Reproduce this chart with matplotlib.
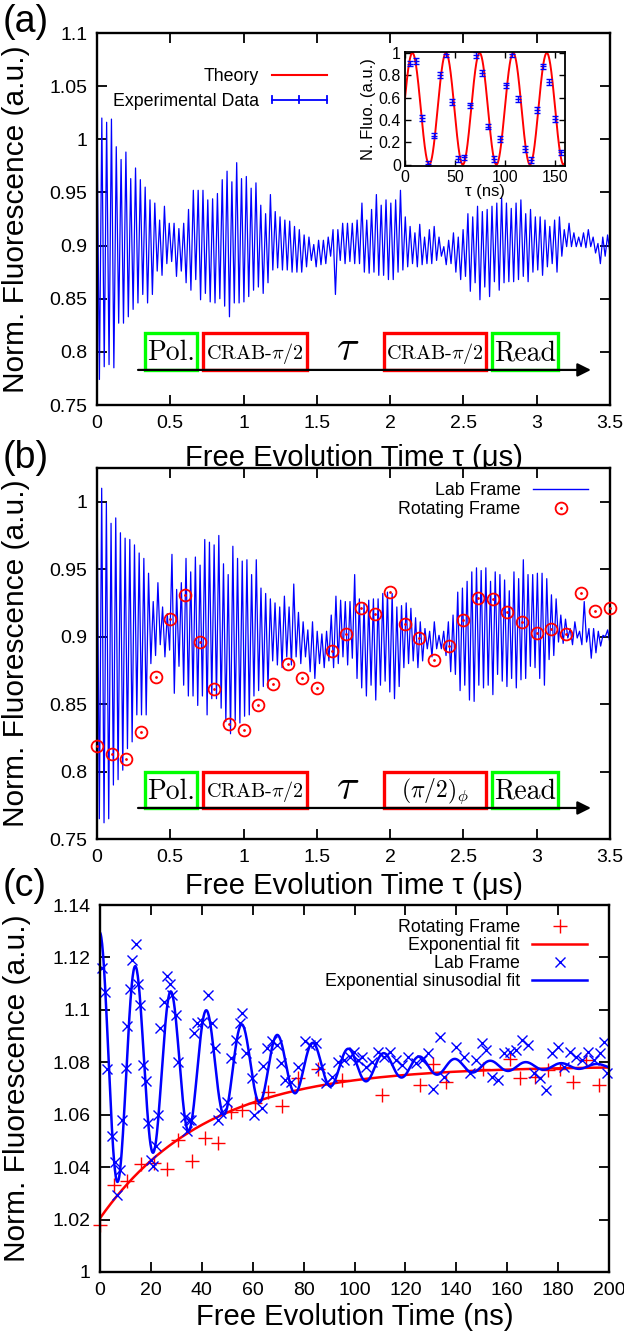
import numpy as np
import matplotlib
matplotlib.use('Agg')
import matplotlib.pyplot as plt
from matplotlib.patches import Rectangle
from matplotlib.lines import Line2D
from matplotlib.legend_handler import HandlerBase, HandlerTuple
from matplotlib.ticker import FormatStrFormatter

plt.rcParams['font.family'] = ['Liberation Sans', 'DejaVu Sans']
plt.rcParams['mathtext.fontset'] = 'cm'

# ---------------- data ----------------
# (a) lab-frame Ramsey trace: upper / lower turning points of the zig-zag
a_hi = [1.015, 1.020, 1.016, 1.019, 0.993, 0.981, 0.988, 0.963, 0.973, 0.962, 0.955, 0.943,
        0.940, 0.924, 0.937, 0.921, 0.921, 0.916, 0.921, 0.934, 0.952, 0.952, 0.952, 0.943,
        0.944, 0.949, 0.962, 0.970, 0.960, 0.978, 0.963, 0.965, 0.954, 0.959, 0.938, 0.930,
        0.948, 0.932, 0.927, 0.924, 0.923, 0.918, 0.915, 0.910, 0.908, 0.901, 0.905, 0.905,
        0.908, 0.915, 0.915, 0.921, 0.921, 0.921, 0.924, 0.940, 0.924, 0.934, 0.948, 0.938,
        0.943, 0.940, 0.943, 0.952, 0.927, 0.918, 0.912, 0.920, 0.908, 0.915, 0.918, 0.908,
        0.899, 0.905, 0.912, 0.908, 0.915, 0.930, 0.927, 0.937, 0.932, 0.934, 0.937, 0.940,
        0.945, 0.940, 0.935, 0.940, 0.943, 0.930, 0.934, 0.927, 0.927, 0.924, 0.918, 0.924,
        0.927, 0.915, 0.921, 0.912, 0.908, 0.912, 0.915, 0.908, 0.902, 0.908, 0.910]
a_lo = [0.774, 0.786, 0.788, 0.785, 0.827, 0.827, 0.833, 0.840, 0.846, 0.854, 0.846, 0.854,
        0.876, 0.872, 0.883, 0.885, 0.871, 0.876, 0.865, 0.858, 0.868, 0.849, 0.855, 0.847,
        0.846, 0.850, 0.843, 0.833, 0.846, 0.846, 0.847, 0.852, 0.858, 0.861, 0.855, 0.865,
        0.877, 0.879, 0.877, 0.877, 0.875, 0.875, 0.875, 0.880, 0.886, 0.880, 0.882, 0.883,
        0.890, 0.854, 0.886, 0.883, 0.885, 0.883, 0.883, 0.875, 0.874, 0.875, 0.872, 0.872,
        0.868, 0.868, 0.875, 0.877, 0.880, 0.883, 0.880, 0.882, 0.883, 0.883, 0.886, 0.890,
        0.882, 0.883, 0.875, 0.868, 0.871, 0.857, 0.865, 0.849, 0.861, 0.852, 0.866, 0.858,
        0.865, 0.866, 0.866, 0.868, 0.871, 0.866, 0.875, 0.877, 0.872, 0.880, 0.883, 0.875,
        0.890, 0.899, 0.899, 0.899, 0.899, 0.898, 0.899, 0.893, 0.883, 0.890, 0.893]

# (a) inset: Rabi oscillation
ins_t = [4.5, 10.6, 16.6, 22.7, 28.7, 34.8, 40.8, 46.9, 52.9, 59.0, 65.0, 71.1, 77.1,
         83.2, 89.2, 95.3, 101.3, 107.4, 113.4, 119.5, 125.5, 131.6, 137.6, 143.7, 149.7, 155.8]
ins_v = [0.905, 0.93, 0.42, 0.01, 0.26, 0.80, 0.99, 0.56, 0.05, 0.065, 0.53, 0.98, 0.82,
         0.34, 0.053, 0.23, 0.71, 0.99, 0.59, 0.14, 0.044, 0.49, 0.88, 0.74, 0.41, 0.11]
ins_err = 0.025
theory_period = 33.6   # ns
theory_peak = 7.4      # ns

# (b) lab-frame trace and rotating-frame points
b_hi = [1.015, 1.010, 0.999, 0.984, 0.988, 0.977, 0.973, 0.972, 0.968, 0.962, 0.958, 0.947,
        0.926, 0.940, 0.922, 0.917, 0.961, 0.935, 0.940, 0.958, 0.948, 0.959, 0.953, 0.972,
        0.970, 0.968, 0.975, 0.954, 0.946, 0.967, 0.958, 0.956, 0.957, 0.946, 0.957, 0.936,
        0.932, 0.928, 0.925, 0.922, 0.930, 0.922, 0.939, 0.918, 0.911, 0.905, 0.911, 0.904,
        0.902, 0.904, 0.916, 0.930, 0.927, 0.926, 0.926, 0.946, 0.928, 0.925, 0.927, 0.928,
        0.928, 0.932, 0.933, 0.932, 0.922, 0.923, 0.925, 0.921, 0.914, 0.911, 0.906, 0.904,
        0.911, 0.901, 0.904, 0.911, 0.916, 0.933, 0.936, 0.941, 0.948, 0.951, 0.949, 0.951,
        0.941, 0.948, 0.946, 0.942, 0.934, 0.948, 0.943, 0.957, 0.946, 0.946, 0.947, 0.947,
        0.943, 0.931, 0.928, 0.916, 0.913, 0.906, 0.911, 0.904, 0.926, 0.906, 0.906, 0.904,
        0.901, 0.905, 0.906]
b_lo = [0.765, 0.762, 0.765, 0.790, 0.794, 0.801, 0.817, 0.822, 0.842, 0.842, 0.842, 0.880,
        0.886, 0.894, 0.885, 0.890, 0.858, 0.878, 0.864, 0.856, 0.856, 0.849, 0.856, 0.842,
        0.854, 0.854, 0.847, 0.837, 0.828, 0.838, 0.836, 0.841, 0.842, 0.856, 0.860, 0.863,
        0.862, 0.882, 0.879, 0.877, 0.885, 0.879, 0.885, 0.880, 0.885, 0.874, 0.869, 0.880,
        0.877, 0.882, 0.877, 0.880, 0.885, 0.879, 0.884, 0.869, 0.862, 0.856, 0.864, 0.853,
        0.864, 0.867, 0.859, 0.854, 0.863, 0.877, 0.880, 0.882, 0.877, 0.882, 0.891, 0.885,
        0.891, 0.891, 0.886, 0.874, 0.872, 0.860, 0.864, 0.853, 0.852, 0.864, 0.862, 0.864,
        0.857, 0.872, 0.867, 0.863, 0.869, 0.862, 0.868, 0.869, 0.878, 0.877, 0.869, 0.864,
        0.883, 0.886, 0.896, 0.895, 0.899, 0.894, 0.899, 0.894, 0.896, 0.884, 0.888, 0.893,
        0.900, 0.895]
rot_b_t = [0.0, 0.1, 0.2, 0.3, 0.4, 0.5, 0.6, 0.7, 0.8, 0.9, 1.0, 1.1, 1.2, 1.3, 1.4, 1.5, 1.6, 1.7,
           1.8, 1.9, 2.0, 2.1, 2.2, 2.3, 2.4, 2.5, 2.6, 2.7, 2.8, 2.9, 3.0, 3.1, 3.2, 3.3, 3.4, 3.5]
rot_b_v = [0.819, 0.813, 0.809, 0.829, 0.870, 0.913, 0.931, 0.896, 0.861, 0.835, 0.831, 0.849,
           0.865, 0.880, 0.869, 0.862, 0.889, 0.902, 0.921, 0.917, 0.933, 0.909, 0.899, 0.883,
           0.893, 0.912, 0.929, 0.928, 0.918, 0.911, 0.903, 0.906, 0.902, 0.932, 0.919, 0.921]

# (c) rotating frame (red +) and lab frame (blue x), time in ns
rot_c_t = [0, 5.5, 10.7, 16, 21.2, 26.4, 30.6, 36.1, 41.2, 46.4, 51.6, 55.8, 61, 66, 71.5, 77.8,
           85.7, 95, 111, 125.7, 131, 136, 150.6, 161, 165, 171, 176, 180.7, 186, 191, 196]
rot_c_v = [1.018, 1.0332, 1.0347, 1.0412, 1.0415, 1.0393, 1.0503, 1.0425, 1.0512, 1.0493, 1.0612,
           1.0618, 1.0645, 1.0688, 1.0633, 1.0741, 1.0773, 1.0732, 1.0675, 1.0713, 1.0793, 1.0726,
           1.0773, 1.0811, 1.0739, 1.0745, 1.0771, 1.0773, 1.0726, 1.0808, 1.0713]
lab_c_t = [0.8, 1.9, 2.8, 4.7, 6.0, 6.6, 7.9, 8.8, 10.2, 10.7, 11.8, 12.6, 14.2, 14.9, 15.7, 17.0,
           18.0, 18.9, 20.1, 20.8, 22.0, 22.8, 23.6, 25.2, 26.4, 27.5, 28.3, 29.9, 30.7, 33.3,
           34.1, 34.9, 35.8, 37.0, 38.0, 40.0, 42.5, 44.0, 45.0, 46.4, 47.5, 50.0, 51.6, 53.5,
           55.0, 55.8, 57.4, 59.7, 60.5, 63.7, 64.2, 65.7, 67.6, 69.7, 71.2, 72.6, 75.2, 77.8,
           80.5, 82.5, 84.9, 86.5, 88.8, 91.2, 93.6, 95.9, 98.3, 99.8, 101.4, 103.0, 104.6,
           106.9, 109.3, 111.6, 114.0, 116.4, 118.7, 121.0, 124.2, 126.6, 129.0, 130.8, 133.6,
           135.2, 140.0, 143.0, 145.4, 147.8, 150.2, 151.7, 154.0, 156.4, 158.8, 161.2, 163.5,
           165.9, 168.2, 170.6, 173.0, 175.3, 177.7, 180.0, 182.4, 184.7, 187.1, 189.5, 191.8,
           194.2, 196.5, 198.1, 199.4]
lab_c_v = [1.1158, 1.107, 1.0773, 1.0517, 1.0421, 1.0294, 1.039, 1.058, 1.0777, 1.094, 1.108,
           1.119, 1.125, 1.110, 1.102, 1.079, 1.073, 1.0568, 1.0428, 1.0405, 1.0479, 1.060, 1.093,
           1.103, 1.113, 1.110, 1.1057, 1.098, 1.080, 1.0591, 1.0536, 1.0578, 1.0581, 1.091,
           1.095, 1.0955, 1.1057, 1.095, 1.0853, 1.0581, 1.0606, 1.065, 1.0815, 1.0885, 1.095,
           1.0987, 1.0837, 1.0739, 1.060, 1.0626, 1.0786, 1.0853, 1.088, 1.0866, 1.0796, 1.0733,
           1.0726, 1.0783, 1.088, 1.0866, 1.0872, 1.0777, 1.0722, 1.0745, 1.080, 1.0808, 1.0822,
           1.084, 1.081, 1.0822, 1.0783, 1.080, 1.084, 1.0822, 1.084, 1.0808, 1.079, 1.0822,
           1.0796, 1.0808, 1.0834, 1.070, 1.0898, 1.0745, 1.086, 1.0822, 1.0758, 1.0808, 1.0872,
           1.0847, 1.0745, 1.0733, 1.0834, 1.084, 1.0847, 1.0885, 1.0866, 1.0758, 1.0739, 1.0694,
           1.0834, 1.086, 1.0783, 1.084, 1.0822, 1.0808, 1.084, 1.0808, 1.0834, 1.0879, 1.0758]
# fit parameters for (c)
exp_c, exp_b, exp_tau = 1.0785, 0.058, 42.0
sin_c, sin_a, sin_tau, sin_period = 1.0785, 0.051, 48.0, 13.95

# ---------------- figure ----------------
W, H = 624, 1334
fig = plt.figure(figsize=(W / 100, H / 100), dpi=100)


def px_axes(l, t, r, b):
    return fig.add_axes([l / W, 1 - b / H, (r - l) / W, (b - t) / H])


def gp_style(ax, size=14):
    for s in ax.spines.values():
        s.set_linewidth(1.7)
    ax.tick_params(direction='in', top=True, right=True, length=7, width=1.3,
                   labelsize=size, pad=7)
    ax.xaxis.set_major_formatter(FormatStrFormatter('%g'))
    ax.yaxis.set_major_formatter(FormatStrFormatter('%g'))


def zigzag(hi, lo, t_end):
    n = min(len(hi), len(lo))
    vals = np.empty(2 * n)
    vals[0::2] = hi[:n]
    vals[1::2] = lo[:n]
    return np.linspace(0, t_end, 2 * n), vals


def pulse_scheme(ax, y0, y1, label2, size2):
    boxes = [(0.327, 0.680, '#00ff00', 'Pol.', 20),
             (0.724, 1.432, '#ff0000', r'CRAB-$\pi/2$', 14.5),
             (1.960, 2.657, '#ff0000', label2, size2),
             (2.698, 3.147, '#00ff00', 'Read', 20)]
    for x0, x1, col, txt, fs in boxes:
        ax.add_patch(Rectangle((x0, y0), x1 - x0, y1 - y0, fc='white', ec=col, lw=2.4, zorder=3))
        ax.text((x0 + x1) / 2, y0 + 0.45 * (y1 - y0), txt, ha='center', va='center',
                fontsize=fs, family='cmr10', zorder=4)
    ax.annotate('', xy=(3.37, y0), xytext=(0.28, y0), zorder=5,
                arrowprops=dict(arrowstyle='-|>', lw=1.6, color='black', mutation_scale=20,
                                shrinkA=0, shrinkB=0))
    ax.text(1.71, y0 + 0.55 * (y1 - y0), r'$\tau$', fontsize=30, ha='center', va='center', zorder=4)


class HandlerHErr(HandlerBase):
    def create_artists(self, legend, orig_handle, xdescent, ydescent, width, height, fontsize, trans):
        y = height / 2 - ydescent
        h = 0.3 * height
        x0, x1 = -xdescent, width - xdescent
        xm = (x0 + x1) / 2
        segs = [([x0, x1], [y, y]), ([x0, x0], [y - h, y + h]),
                ([x1, x1], [y - h, y + h]), ([xm, xm], [y - h, y + h])]
        arts = []
        for xs, ys in segs:
            ln = Line2D(xs, ys, color=orig_handle.get_color(), lw=1.3)
            ln.set_transform(trans)
            arts.append(ln)
        return arts


# ---------- panel (a) ----------
axa = px_axes(97, 33, 610, 405)
ta, va = zigzag(a_hi, a_lo, 3.5)
axa.plot(ta, va, color='#0000ff', lw=0.9)
axa.set_xlim(0, 3.5)
axa.set_ylim(0.75, 1.1)
axa.set_xticks(np.arange(0, 3.51, 0.5))
axa.set_yticks(np.arange(0.75, 1.101, 0.05))
gp_style(axa)
axa.set_xlabel('Free Evolution Time τ (μs)', fontsize=21)
axa.set_ylabel('Norm. Fluorescence (a.u.)', fontsize=21.5)
axa.xaxis.set_label_coords(0.5, -0.105)
axa.yaxis.set_label_coords(-0.13, 0.5)
pulse_scheme(axa, 0.783, 0.818, r'CRAB-$\pi/2$', 14.5)

h_th = Line2D([], [], color='#ff0000', lw=1.5)
h_ex = Line2D([], [], color='#0000ff', lw=1.3)
axa.legend([h_th, h_ex], ['Theory', 'Experimental Data'], loc='upper right',
           bbox_to_anchor=(0.465, 0.93), frameon=False, markerfirst=False, fontsize=12.8,
           handlelength=3.1, handletextpad=0.7, labelspacing=0.45, borderpad=0,
           handler_map={h_ex: HandlerHErr()})

# inset
axi = px_axes(405, 52, 565, 166)
tt = np.linspace(0, 160, 600)
axi.plot(tt, 0.5 + 0.5 * np.cos(2 * np.pi * (tt - theory_peak) / theory_period),
         color='#ff0000', lw=1.4)
axi.errorbar(ins_t, ins_v, yerr=ins_err, fmt='_', color='#0000ff', ms=4, capsize=2,
             elinewidth=1.0, capthick=1.0)
axi.set_xlim(0, 160)
axi.set_ylim(-0.012, 1.008)
axi.set_xticks([0, 50, 100, 150])
axi.set_yticks(np.arange(0, 1.01, 0.2))
gp_style(axi, size=11.5)
axi.tick_params(length=4, width=1.0, pad=3)
for s in axi.spines.values():
    s.set_linewidth(1.3)
axi.set_xlabel('τ (ns)', fontsize=12, labelpad=-1)
axi.set_ylabel('N. Fluo. (a.u.)', fontsize=12, labelpad=2)

# ---------- panel (b) ----------
axb = px_axes(97, 468, 610, 839)
tb, vb = zigzag(b_hi, b_lo, 3.5)
axb.plot(tb, vb, color='#0000ff', lw=0.9)
axb.plot(rot_b_t, rot_b_v, 'o', mfc='none', mec='#ff0000', ms=8.5, mew=1.3, clip_on=False, zorder=6)
axb.plot(rot_b_t, rot_b_v, '.', color='#ff0000', ms=2, clip_on=False, zorder=6)
axb.set_xlim(0, 3.5)
axb.set_ylim(0.75, 1.025)
axb.set_xticks(np.arange(0, 3.51, 0.5))
axb.set_yticks(np.arange(0.75, 1.001, 0.05))
gp_style(axb)
axb.set_xlabel('Free Evolution Time τ (μs)', fontsize=21)
axb.set_ylabel('Norm. Fluorescence (a.u.)', fontsize=21.5)
axb.xaxis.set_label_coords(0.5, -0.088)
axb.yaxis.set_label_coords(-0.13, 0.5)
pulse_scheme(axb, 0.773, 0.800, r'$(\pi/2)_\phi$', 17)

h_lab = Line2D([], [], color='#0000ff', lw=1.0)
h_rc = Line2D([], [], ls='none', marker='o', mfc='none', mec='#ff0000', ms=8.5, mew=1.3)
h_rd = Line2D([], [], ls='none', marker='.', color='#ff0000', ms=2)
axb.legend([h_lab, (h_rc, h_rd)], ['Lab Frame', 'Rotating Frame'], loc='upper right',
           bbox_to_anchor=(0.975, 0.985), frameon=False, markerfirst=False, fontsize=12.8,
           handlelength=3.1, handletextpad=0.7, labelspacing=0.1, borderpad=0,
           handler_map={tuple: HandlerTuple(ndivide=1)})

# ---------- panel (c) ----------
axc = px_axes(100, 905, 609, 1272)
tc = np.linspace(0, 200, 1200)
axc.plot(rot_c_t, rot_c_v, '+', color='#ff0000', ms=10, mew=1.0, clip_on=False)
axc.plot(tc, exp_c - exp_b * np.exp(-tc / exp_tau), color='#ff0000', lw=1.8)
axc.plot(lab_c_t, lab_c_v, 'x', color='#0000ff', ms=6.5, mew=1.0, clip_on=False)
axc.plot(tc, sin_c + sin_a * np.exp(-tc / sin_tau) * np.cos(2 * np.pi * tc / sin_period),
         color='#0000ff', lw=1.8)
axc.set_xlim(0, 200)
axc.set_ylim(1.0, 1.14)
axc.set_xticks(np.arange(0, 201, 20))
axc.set_yticks(np.arange(1.0, 1.141, 0.02))
gp_style(axc)
axc.set_xlabel('Free Evolution Time (ns)', fontsize=21)
axc.set_ylabel('Norm. Fluorescence (a.u.)', fontsize=21.5)
axc.xaxis.set_label_coords(0.5, -0.085)
axc.yaxis.set_label_coords(-0.135, 0.5)

h1 = Line2D([], [], ls='none', marker='+', color='#ff0000', ms=10, mew=1.0)
h2 = Line2D([], [], color='#ff0000', lw=1.8)
h3 = Line2D([], [], ls='none', marker='x', color='#0000ff', ms=6.5, mew=1.0)
h4 = Line2D([], [], color='#0000ff', lw=1.8)
axc.legend([h1, h2, h3, h4], ['Rotating Frame', 'Exponential fit', 'Lab Frame',
                              'Exponential sinusodial fit'],
           loc='upper right', bbox_to_anchor=(0.975, 0.985), frameon=False, markerfirst=False,
           fontsize=12.8, handlelength=3.1, handletextpad=0.7, labelspacing=0.05, borderpad=0)

# panel tags
fig.text(3 / W, 1 - 4 / H, '(a)', fontsize=27, va='top', ha='left')
fig.text(3 / W, 1 - 440 / H, '(b)', fontsize=27, va='top', ha='left')
fig.text(3 / W, 1 - 868 / H, '(c)', fontsize=27, va='top', ha='left')

fig.savefig('out.png', dpi=100)
